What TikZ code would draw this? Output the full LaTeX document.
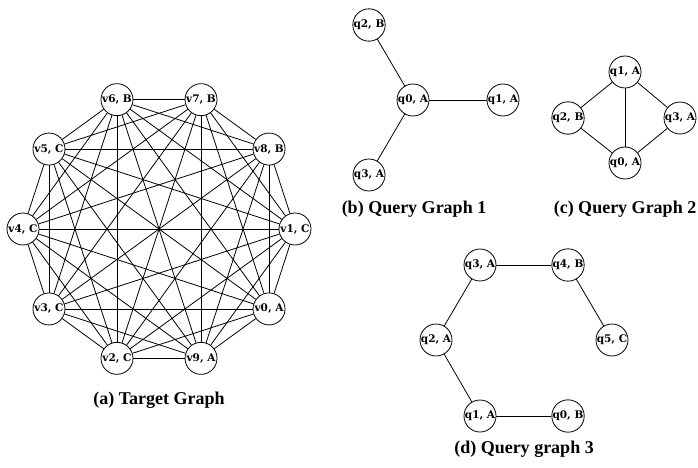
\documentclass[tikz,border=0pt]{standalone}
\usepackage{fontspec}
\setmainfont{Liberation Serif}
\newfontfamily\lblfont{DejaVu Serif}
\tikzset{
  vtx/.style={circle, draw, line width=0.8pt, fill=white, minimum size=32pt,
              inner sep=0pt, font=\lblfont\bfseries\fontsize{10.5}{10.5}\selectfont},
  link/.style={line width=0.8pt},
  caption/.style={anchor=base, inner sep=0pt, font=\bfseries\fontsize{18}{20}\selectfont}
}
\begin{document}
\begin{tikzpicture}[x=1pt, y=-1pt]
  \useasboundingbox (0,0) rectangle (698,468);

  % (a) target graph: complete graph on ten vertices placed on a decagon
  \foreach \n/\a/\t [count=\k] in {v1/0/{v1, C}, v8/36/{v8, B}, v7/72/{v7, B},
      v6/108/{v6, B}, v5/144/{v5, C}, v4/180/{v4, C}, v3/216/{v3, C},
      v2/252/{v2, C}, v9/288/{v9, A}, v0/324/{v0, A}}
    \node[vtx] (\n) at ({159+136*cos(\a)}, {229-136*sin(\a)}) {\t};
  \foreach \p [count=\i] in {v1,v8,v7,v6,v5,v4,v3,v2,v9,v0}
    \foreach \q [count=\j] in {v1,v8,v7,v6,v5,v4,v3,v2,v9,v0}
      {\ifnum\i<\j \draw[link] (\p) -- (\q); \fi}
  \node[caption] (capa) at (159,404) {(a) Target Graph};

  % (b) query graph 1
  \node[vtx] (b0) at (413,100) {q0, A};
  \node[vtx] (b1) at (503,100) {q1, A};
  \node[vtx] (b2) at (369,25)  {q2, B};
  \node[vtx] (b3) at (369,175) {q3, A};
  \draw[link] (b0) -- (b1);
  \draw[link] (b0) -- (b2);
  \draw[link] (b0) -- (b3);
  \node[caption] (capb) at (414,213.5) {(b) Query Graph 1};

  % (c) query graph 2
  \node[vtx] (c1) at (625,72)  {q1, A};
  \node[vtx] (c2) at (568,118) {q2, B};
  \node[vtx] (c3) at (680,118) {q3, A};
  \node[vtx] (c0) at (625,163) {q0, A};
  \draw[link] (c1) -- (c2);
  \draw[link] (c1) -- (c3);
  \draw[link] (c1) -- (c0);
  \draw[link] (c2) -- (c0);
  \draw[link] (c3) -- (c0);
  \node[caption] (capc) at (625,213.5) {(c) Query Graph 2};

  % (d) query graph 3
  \node[vtx] (d3) at (480,265) {q3, A};
  \node[vtx] (d4) at (568,265) {q4, B};
  \node[vtx] (d2) at (436,340) {q2, A};
  \node[vtx] (d5) at (612,340) {q5, C};
  \node[vtx] (d1) at (480,416) {q1, A};
  \node[vtx] (d0) at (568,416) {q0, B};
  \draw[link] (d3) -- (d4);
  \draw[link] (d4) -- (d5);
  \draw[link] (d3) -- (d2);
  \draw[link] (d2) -- (d1);
  \draw[link] (d1) -- (d0);
  \node[caption] (capd) at (524,453.5) {(d) Query graph 3};
\end{tikzpicture}
\end{document}
